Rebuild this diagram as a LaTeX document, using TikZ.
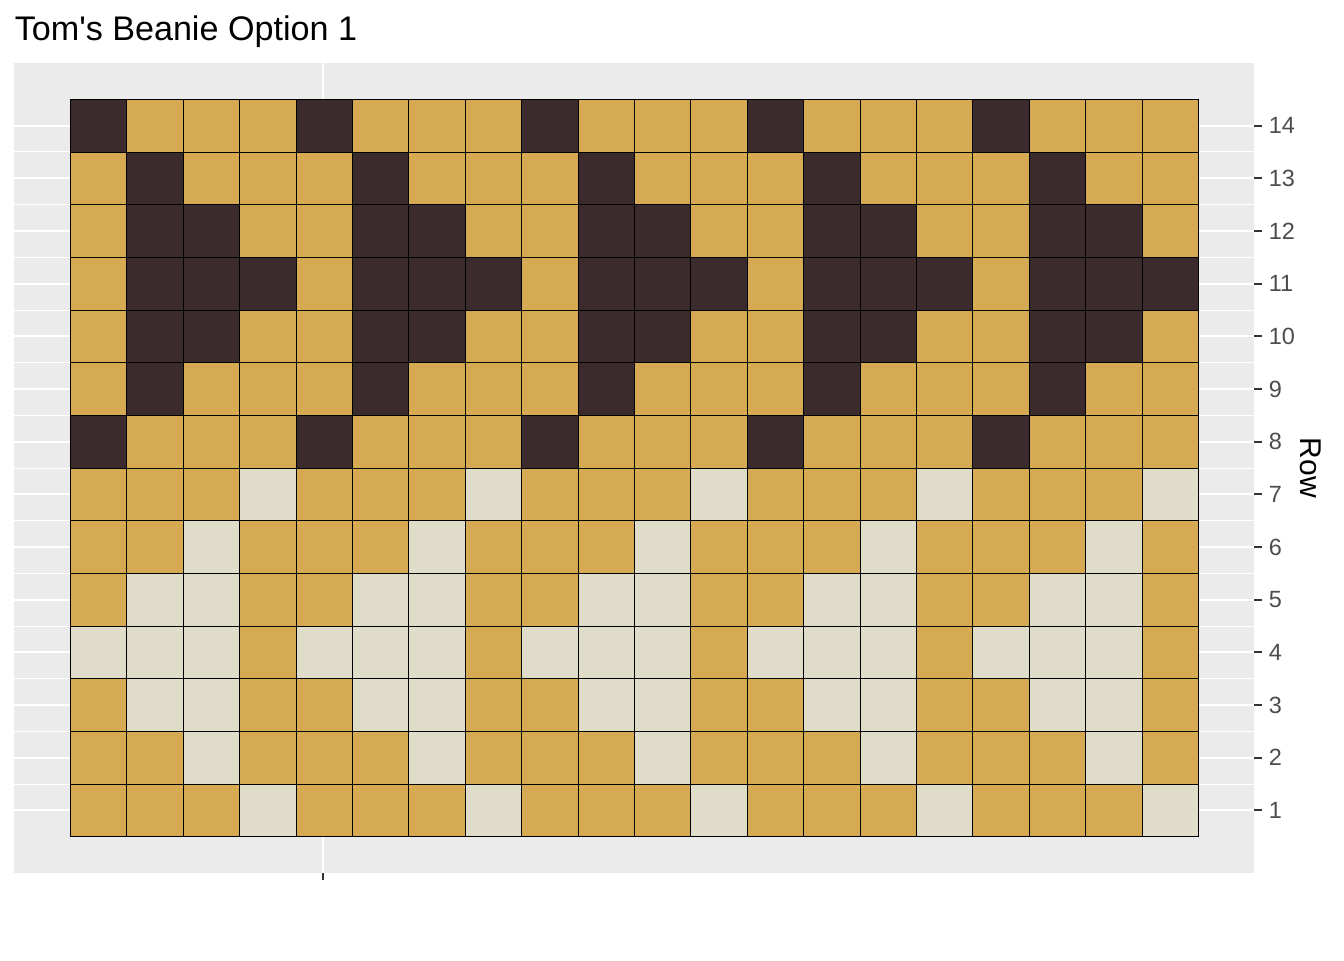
\documentclass[tikz,border=0pt]{standalone}
\usepackage{fontspec}
\setmainfont{Liberation Sans}
\definecolor{cD}{HTML}{3C2B2D}
\definecolor{cG}{HTML}{D6AA52}
\definecolor{cL}{HTML}{DFDCC9}
\definecolor{panelbg}{HTML}{EBEBEB}
\definecolor{ticktext}{HTML}{4D4D4D}
\definecolor{tickmark}{HTML}{333333}
\tikzset{
  cellbox/.style={draw=black, line width=0.6pt},
  majorline/.style={draw=white, line width=1.5pt},
  minorline/.style={draw=white, line width=0.75pt},
  tickline/.style={draw=tickmark, line width=1.5pt},
  ticklabel/.style={anchor=west, inner sep=0pt, text=ticktext, font=\fontsize{17.6}{20}\selectfont},
}
\begin{document}
\begin{tikzpicture}[x=0.75pt,y=-0.75pt]
\useasboundingbox (0,0) rectangle (1344,960);
\fill[white] (0,0) rectangle (1344,960);
\fill[panelbg] (14,62.5) rectangle (1254,872.5);
% minor grid lines
\foreach \k in {1,...,13} {
  \draw[minorline] (14,{836.8-\k*52.68}) -- (1254,{836.8-\k*52.68});
}
% major grid lines
\foreach \k in {1,...,14} {
  \draw[majorline] (14,{836.8-(\k-0.5)*52.68}) -- (1254,{836.8-(\k-0.5)*52.68});
}
\draw[majorline] (323,62.5) -- (323,872.5);
% cells, rows from top (14) to bottom (1)
\foreach \rw [count=\r] in {
  {D,G,G,G,D,G,G,G,D,G,G,G,D,G,G,G,D,G,G,G},
  {G,D,G,G,G,D,G,G,G,D,G,G,G,D,G,G,G,D,G,G},
  {G,D,D,G,G,D,D,G,G,D,D,G,G,D,D,G,G,D,D,G},
  {G,D,D,D,G,D,D,D,G,D,D,D,G,D,D,D,G,D,D,D},
  {G,D,D,G,G,D,D,G,G,D,D,G,G,D,D,G,G,D,D,G},
  {G,D,G,G,G,D,G,G,G,D,G,G,G,D,G,G,G,D,G,G},
  {D,G,G,G,D,G,G,G,D,G,G,G,D,G,G,G,D,G,G,G},
  {G,G,G,L,G,G,G,L,G,G,G,L,G,G,G,L,G,G,G,L},
  {G,G,L,G,G,G,L,G,G,G,L,G,G,G,L,G,G,G,L,G},
  {G,L,L,G,G,L,L,G,G,L,L,G,G,L,L,G,G,L,L,G},
  {L,L,L,G,L,L,L,G,L,L,L,G,L,L,L,G,L,L,L,G},
  {G,L,L,G,G,L,L,G,G,L,L,G,G,L,L,G,G,L,L,G},
  {G,G,L,G,G,G,L,G,G,G,L,G,G,G,L,G,G,G,L,G},
  {G,G,G,L,G,G,G,L,G,G,G,L,G,G,G,L,G,G,G,L}} {
  \foreach \c [count=\i] in \rw {
    \filldraw[cellbox, fill=c\c] ({70.4+(\i-1)*56.4},{99.3+(\r-1)*52.68}) rectangle ++(56.4,52.68);
  }
}
% right axis
\foreach \k in {1,...,14} {
  \draw[tickline] (1254,{836.8-(\k-0.5)*52.68}) -- (1261.5,{836.8-(\k-0.5)*52.68});
  \node[ticklabel] (lab\k) at (1268.5,{836.8-(\k-0.5)*52.68}) {\k};
}
\draw[tickline] (323,872.5) -- (323,880);
\node[rotate=-90, inner sep=0pt, font=\fontsize{22.5}{26}\selectfont] (rowlab) at (1311,468) {Row};
% title
\node[anchor=base west, inner sep=0pt, font=\fontsize{25.6}{30}\selectfont] (title) at (14.5,40.5) {Tom\textquotesingle s Beanie Option 1};
\end{tikzpicture}
\end{document}
